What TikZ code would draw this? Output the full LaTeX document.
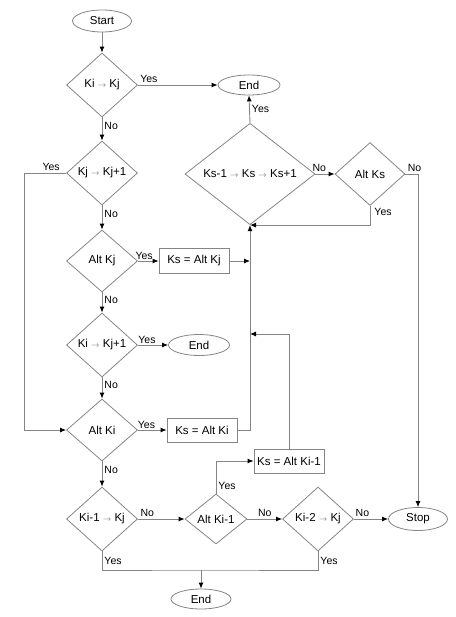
\documentclass[tikz,border=0pt]{standalone}
\usepackage{fontspec}
\setmainfont{Liberation Sans}
\usetikzlibrary{shapes.geometric,arrows.meta}
\definecolor{linegray}{HTML}{858585}
\newcommand{\karrow}{\ \textcolor{black!60}{$\scriptstyle\rightarrow$}\ }
\begin{document}
\begin{tikzpicture}[x=1pt,y=-1pt]
\tikzstyle{dec}=[diamond,draw=linegray,line width=0.8pt,minimum width=71pt,minimum height=64pt,inner sep=0pt,font=\fontsize{11.5}{13}\selectfont]
\tikzstyle{term}=[ellipse,draw=linegray,line width=0.8pt,minimum width=60pt,minimum height=21pt,inner sep=0pt,font=\fontsize{11.5}{13}\selectfont]
\tikzstyle{proc}=[rectangle,draw=linegray,line width=0.8pt,minimum width=70pt,minimum height=25pt,inner sep=0pt,font=\fontsize{11.5}{13}\selectfont]
\tikzstyle{flow}=[draw=linegray,line width=0.9pt,-{Latex[length=6pt,width=5pt,color=black]}]
\tikzstyle{wire}=[draw=linegray,line width=0.9pt]
\tikzstyle{lbl}=[font=\fontsize{10.5}{12}\selectfont,inner sep=2pt]
\useasboundingbox (0,0) rectangle (455,617);
\node[term,minimum width=59pt,minimum height=22pt] (start) at (102,21) {Start};
\node[dec] (kikj) at (102,85) {Ki\karrow Kj};
\node[dec] (kjkj1) at (102,173) {Kj\karrow Kj+1};
\node[dec,minimum height=62pt] (altkj) at (102,261) {Alt Kj};
\node[proc] (kskj) at (194,261) {Ks = Alt Kj};
\node[dec] (kikj1) at (102,345) {Ki\karrow Kj+1};
\node[term,minimum width=61pt] (endb) at (199,345) {End};
\node[dec,minimum height=62pt] (altki) at (102,430) {Alt Ki};
\node[proc,minimum height=24pt] (kski) at (202,430) {Ks = Alt Ki};
\node[dec] (ki1kj) at (102,519) {Ki-1\karrow Kj};
\node[dec,minimum width=62pt,minimum height=50pt] (altki1) at (216,519) {Alt Ki-1};
\node[proc,minimum height=24pt] (kski1) at (289,461) {Ks = Alt Ki-1};
\node[dec] (ki2kj) at (318,519) {Ki-2\karrow Kj};
\node[term,minimum width=59pt,minimum height=23pt] (stop) at (418,519) {Stop};
\node[term,minimum height=20pt] (endc) at (201,599) {End};
\node[term,minimum width=62pt,minimum height=20pt] (enda) at (249,85) {End};
\node[dec,minimum width=130pt,minimum height=85pt] (kscheck) at (250,174) {Ks-1\karrow Ks\karrow Ks+1};
\node[dec,minimum width=70pt,minimum height=63pt] (altks) at (370,174) {Alt Ks};
\coordinate (loop) at (24,173);
\coordinate (merge) at (250,334);
\coordinate (bottom) at (201,570);
\draw[flow] (start) -- (kikj);
\draw[flow] (kikj.east) -- node[lbl,pos=0,anchor=south west]{Yes} (enda.west);
\draw[flow] (kikj.south) -- node[lbl,pos=0.35,right]{No} (kjkj1.north);
\draw[flow] (kjkj1.west) -- node[lbl,pos=0,anchor=south east,xshift=-4pt]{Yes} (loop) |- (altki.west);
\draw[flow] (kjkj1.south) -- node[lbl,pos=0.35,right]{No} (altkj.north);
\draw[flow] (altkj.east) -- node[lbl,pos=0.3,above,yshift=-1pt]{Yes} (kskj.west);
\draw[flow] (kskj.east) -- (kskj.east -| kscheck.south);
\draw[flow] (altkj.south) -- node[lbl,pos=0.35,right]{No} (kikj1.north);
\draw[flow] (kikj1.east) -- node[lbl,pos=0.3,above,yshift=-1pt]{Yes} (endb.west);
\draw[flow] (kikj1.south) -- node[lbl,pos=0.35,right]{No} (altki.north);
\draw[flow] (altki.east) -- node[lbl,pos=0.3,above,yshift=-1pt]{Yes} (kski.west);
\draw[flow] (kski.east) -| (kscheck.south);
\draw[flow] (altki.south) -- node[lbl,pos=0.35,right]{No} (ki1kj.north);
\draw[flow] (ki1kj.east) -- node[lbl,pos=0.2,above]{No} (altki1.west);
\draw[flow] (altki1.north) |- node[lbl,pos=0.12,right]{Yes} (kski1.west);
\draw[flow] (kski1.north) |- (merge);
\draw[flow] (altki1.east) -- node[lbl,pos=0.5,above]{No} (ki2kj.west);
\draw[flow] (ki2kj.east) -- node[lbl,pos=0.25,above]{No} (stop.west);
\draw[wire] (ki1kj.south) |- node[lbl,pos=0.25,right]{Yes} (bottom) -| node[lbl,pos=0.75,right]{Yes} (ki2kj.south);
\draw[flow] (bottom) -- (endc.north);
\draw[flow] (kscheck.north) -- node[lbl,pos=0.5,right]{Yes} (enda.south);
\draw[flow] (kscheck.east) -- node[lbl,pos=0.2,above]{No} (altks.west);
\draw[flow] (altks.east) -| node[lbl,pos=0,anchor=south west]{No} (stop.north);
\draw[flow] (altks.south) |- node[lbl,pos=0,anchor=north west,xshift=2pt]{Yes} (kscheck.south);
\end{tikzpicture}
\end{document}
